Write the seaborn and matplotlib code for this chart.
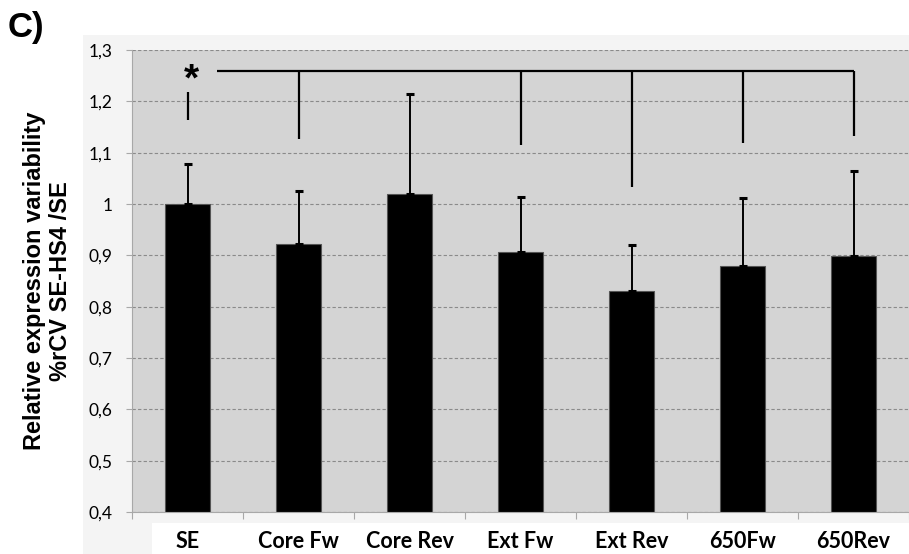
import matplotlib
matplotlib.use("Agg")
import matplotlib.pyplot as plt
from matplotlib.patches import Rectangle
import seaborn as sns
import pandas as pd

# Data
categories = ["SE", "Core Fw", "Core Rev", "Ext Fw", "Ext Rev", "650Fw", "650Rev"]
rel_variability = [1.000, 0.922, 1.019, 0.906, 0.831, 0.879, 0.899]
err_upper = [0.078, 0.103, 0.196, 0.107, 0.090, 0.132, 0.166]

# Significance bracket: SE vs. the other constructs
bracket_level = 1.259
bracket_drop_ends = [None, 1.127, None, 1.115, 1.033, 1.119, 1.132]
se_tick = (1.164, 1.218)

y_ticks = [0.4, 0.5, 0.6, 0.7, 0.8, 0.9, 1.0, 1.1, 1.2, 1.3]
y_tick_labels = ["0,4", "0,5", "0,6", "0,7", "0,8", "0,9", "1", "1,1", "1,2", "1,3"]

W, H = 909, 554
fig = plt.figure(figsize=(W / 100, H / 100), dpi=100)
fig.patch.set_facecolor("white")

# Chart-area panel and white strip behind the category labels
fig.patches.append(Rectangle((83 / W, 0), 1 - 83 / W, (H - 35) / H,
                             transform=fig.transFigure, facecolor="#f4f4f4",
                             edgecolor="none", zorder=-10))
fig.patches.append(Rectangle((152 / W, 0), 1 - 152 / W, (H - 523) / H,
                             transform=fig.transFigure, facecolor="white",
                             edgecolor="none", zorder=-9))

ax = fig.add_axes([132 / W, (H - 512) / H, (909 - 132) / W, (512 - 50) / H])
ax.set_facecolor("#d4d4d4")

df = pd.DataFrame({"construct": categories, "value": rel_variability})
sns.barplot(data=df, x="construct", y="value", color="black", saturation=1,
            width=0.4, edgecolor="#555555", linewidth=0.8, ax=ax, errorbar=None)

xpos = list(range(len(categories)))
ax.errorbar(xpos, rel_variability, yerr=[[0] * len(err_upper), err_upper],
            fmt="none", ecolor="black", elinewidth=1.4, capsize=3, capthick=2.2,
            zorder=4)

# Bracket
bracket_kw = dict(color="black", lw=1.6, solid_capstyle="butt", zorder=5)
ax.plot([0.265, 6.0], [bracket_level, bracket_level], **bracket_kw)
for i, end in enumerate(bracket_drop_ends):
    if end is not None:
        ax.plot([i, i], [bracket_level, end], **bracket_kw)
ax.plot([0, 0], list(se_tick), **bracket_kw)
ax.text(0.04, bracket_level - 0.019, "*", ha="center", va="center", fontsize=28,
        fontweight="bold", family="Liberation Sans", zorder=6,
        transform=ax.transData)

ax.set_ylim(0.4, 1.3)
ax.set_xlim(-0.5, len(categories) - 0.5)
ax.set_yticks(y_ticks)
ax.set_yticklabels(y_tick_labels, family="Lato", fontsize=12.5)
ax.yaxis.grid(True, linestyle=(0, (3, 2)), color="#8a8a8a", linewidth=0.8)
ax.xaxis.grid(False)
ax.set_axisbelow(True)

ax.set_xticks(xpos)
ax.set_xticklabels(categories, family="Lato", fontweight="bold", fontsize=15.5)
ax.set_xticks([i - 0.5 for i in range(len(categories) + 1)], minor=True)
ax.tick_params(axis="x", which="major", length=0, pad=14)
ax.tick_params(axis="x", which="minor", length=5, color="#a8a8a8", width=0.8)
ax.tick_params(axis="y", length=4, color="#a8a8a8", width=0.8, pad=10)

for side in ["top", "right"]:
    ax.spines[side].set_visible(False)
for side in ["left", "bottom"]:
    ax.spines[side].set_color("#a8a8a8")
    ax.spines[side].set_linewidth(0.8)

ax.set_xlabel("")
ax.set_ylabel("Relative expression variability\n%rCV SE-HS4 /SE",
              family="Liberation Sans", fontweight="bold", fontsize=17,
              linespacing=1.2)
ax.yaxis.set_label_coords(-0.077, 0.5)

fig.text(8 / W, 1 - 28 / H, "C)", family="Liberation Sans", fontweight="bold",
         fontsize=25, ha="left", va="center")

fig.savefig("out.png", dpi=100)
